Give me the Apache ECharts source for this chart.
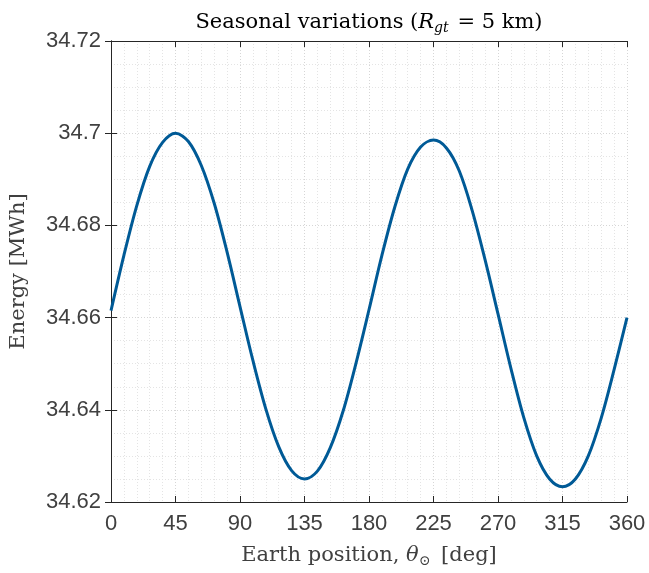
<!DOCTYPE html>
<html>
<head>
<meta charset="utf-8">
<script src="https://cdn.jsdelivr.net/npm/echarts@6/dist/echarts.min.js"></script>
<style>
  html, body { margin: 0; padding: 0; background: #fff; }
  #chart { width: 649px; height: 573px; }
</style>
</head>
<body>
<div id="chart"></div>
<script>
// Earth position around the orbit (deg)
const theta = [0, 9, 18, 27, 36, 45, 54, 63, 72, 81, 90, 99, 108, 117, 126, 135,
               144, 153, 162, 171, 180, 189, 198, 207, 216, 225, 234, 243, 252,
               261, 270, 279, 288, 297, 306, 315, 324, 333, 342, 351, 360];
// Harvested energy (MWh)
const energy = [34.6615, 34.6735, 34.6843, 34.6928, 34.6980, 34.7000, 34.6982,
                34.6930, 34.6848, 34.6742, 34.6624, 34.6507, 34.6402, 34.6320,
                34.6268, 34.6250, 34.6267, 34.6318, 34.6398, 34.6502, 34.6617,
                34.6735, 34.6840, 34.6922, 34.6970, 34.6985, 34.6968, 34.6918,
                34.6832, 34.6725, 34.6608, 34.6490, 34.6383, 34.6300, 34.6250,
                34.6233, 34.6250, 34.6300, 34.6382, 34.6487, 34.6600];
const xTicks = [0, 45, 90, 135, 180, 225, 270, 315, 360];
const yTicks = [34.62, 34.64, 34.66, 34.68, 34.70, 34.72];

const axisColor = '#262626';
const labelColor = '#404040';
const sansFont = '"Liberation Sans", Arial, sans-serif';
const serifFont = '"DejaVu Serif", "Liberation Serif", serif';

const chart = echarts.init(document.getElementById('chart'));

// Mirror axes on the top and right close the box with inward ticks
const boxAxis = {
  axisLine: { show: true, lineStyle: { color: axisColor, width: 1 } },
  axisTick: { show: true, inside: true, length: 6, lineStyle: { color: axisColor } },
  axisLabel: { show: false },
  splitLine: { show: false }
};

chart.setOption({
  animation: false,
  backgroundColor: '#ffffff',
  title: {
    text: '{n|Seasonal variations (}{i|R}{s|gt}{n| = 5 km)}',
    left: 364, top: 6, textAlign: 'center',
    textStyle: {
      fontWeight: 'normal',
      rich: {
        n: { fontFamily: serifFont, fontSize: 21, fontWeight: 'normal', color: '#000' },
        i: { fontFamily: serifFont, fontSize: 21, fontWeight: 'normal', fontStyle: 'italic', color: '#000' },
        s: { fontFamily: serifFont, fontSize: 14, fontWeight: 'normal', fontStyle: 'italic', color: '#000', padding: [10, 2, 0, 0] }
      }
    }
  },
  grid: { left: 107, right: 22, top: 41, bottom: 66, containLabel: false },
  xAxis: [{
    type: 'value', min: xTicks[0], max: xTicks[xTicks.length - 1], interval: 45,
    name: '{n|Earth position, }{i|θ}{s|⊙}{n| [deg]}',
    nameLocation: 'middle', nameGap: 42,
    nameTextStyle: {
      rich: {
        n: { fontFamily: serifFont, fontSize: 21, color: labelColor },
        i: { fontFamily: serifFont, fontSize: 21, fontStyle: 'italic', color: labelColor },
        s: { fontFamily: serifFont, fontSize: 14, color: labelColor, padding: [10, 4, 0, 0] }
      }
    },
    axisLine: { show: true, onZero: false, lineStyle: { color: axisColor, width: 1 } },
    axisTick: { show: true, inside: true, length: 6, lineStyle: { color: axisColor } },
    axisLabel: { color: labelColor, fontFamily: sansFont, fontSize: 22, margin: 11 },
    splitLine: { show: true, lineStyle: { color: '#d6d6d6', type: [1, 2], width: 1 } },
    minorTick: { show: false, splitNumber: 5 },
    minorSplitLine: { show: true, lineStyle: { color: '#e4e4e4', type: [1, 2], width: 1 } }
  }, Object.assign({
    type: 'value', position: 'top', min: 0, max: 360, interval: 45
  }, boxAxis)],
  yAxis: [{
    type: 'value', min: yTicks[0], max: yTicks[yTicks.length - 1], interval: 0.02,
    name: 'Energy [MWh]', nameLocation: 'middle', nameGap: 82,
    nameTextStyle: { fontFamily: serifFont, fontSize: 21, color: labelColor },
    axisLine: { show: true, onZero: false, lineStyle: { color: axisColor, width: 1 } },
    axisTick: { show: true, inside: true, length: 6, lineStyle: { color: axisColor } },
    axisLabel: {
      color: labelColor, fontFamily: sansFont, fontSize: 22, margin: 10,
      formatter: v => String(parseFloat(v.toFixed(3)))
    },
    splitLine: { show: true, lineStyle: { color: '#d6d6d6', type: [1, 2], width: 1 } },
    minorTick: { show: false, splitNumber: 4 },
    minorSplitLine: { show: true, lineStyle: { color: '#e4e4e4', type: [1, 2], width: 1 } }
  }, Object.assign({
    type: 'value', position: 'right', min: 34.62, max: 34.72, interval: 0.02
  }, boxAxis)],
  series: [{
    type: 'line',
    data: theta.map((t, i) => [t, energy[i]]),
    smooth: 0.333,
    showSymbol: false,
    lineStyle: { color: '#005a96', width: 3 },
    xAxisIndex: 0, yAxisIndex: 0
  }]
});
</script>
</body>
</html>
